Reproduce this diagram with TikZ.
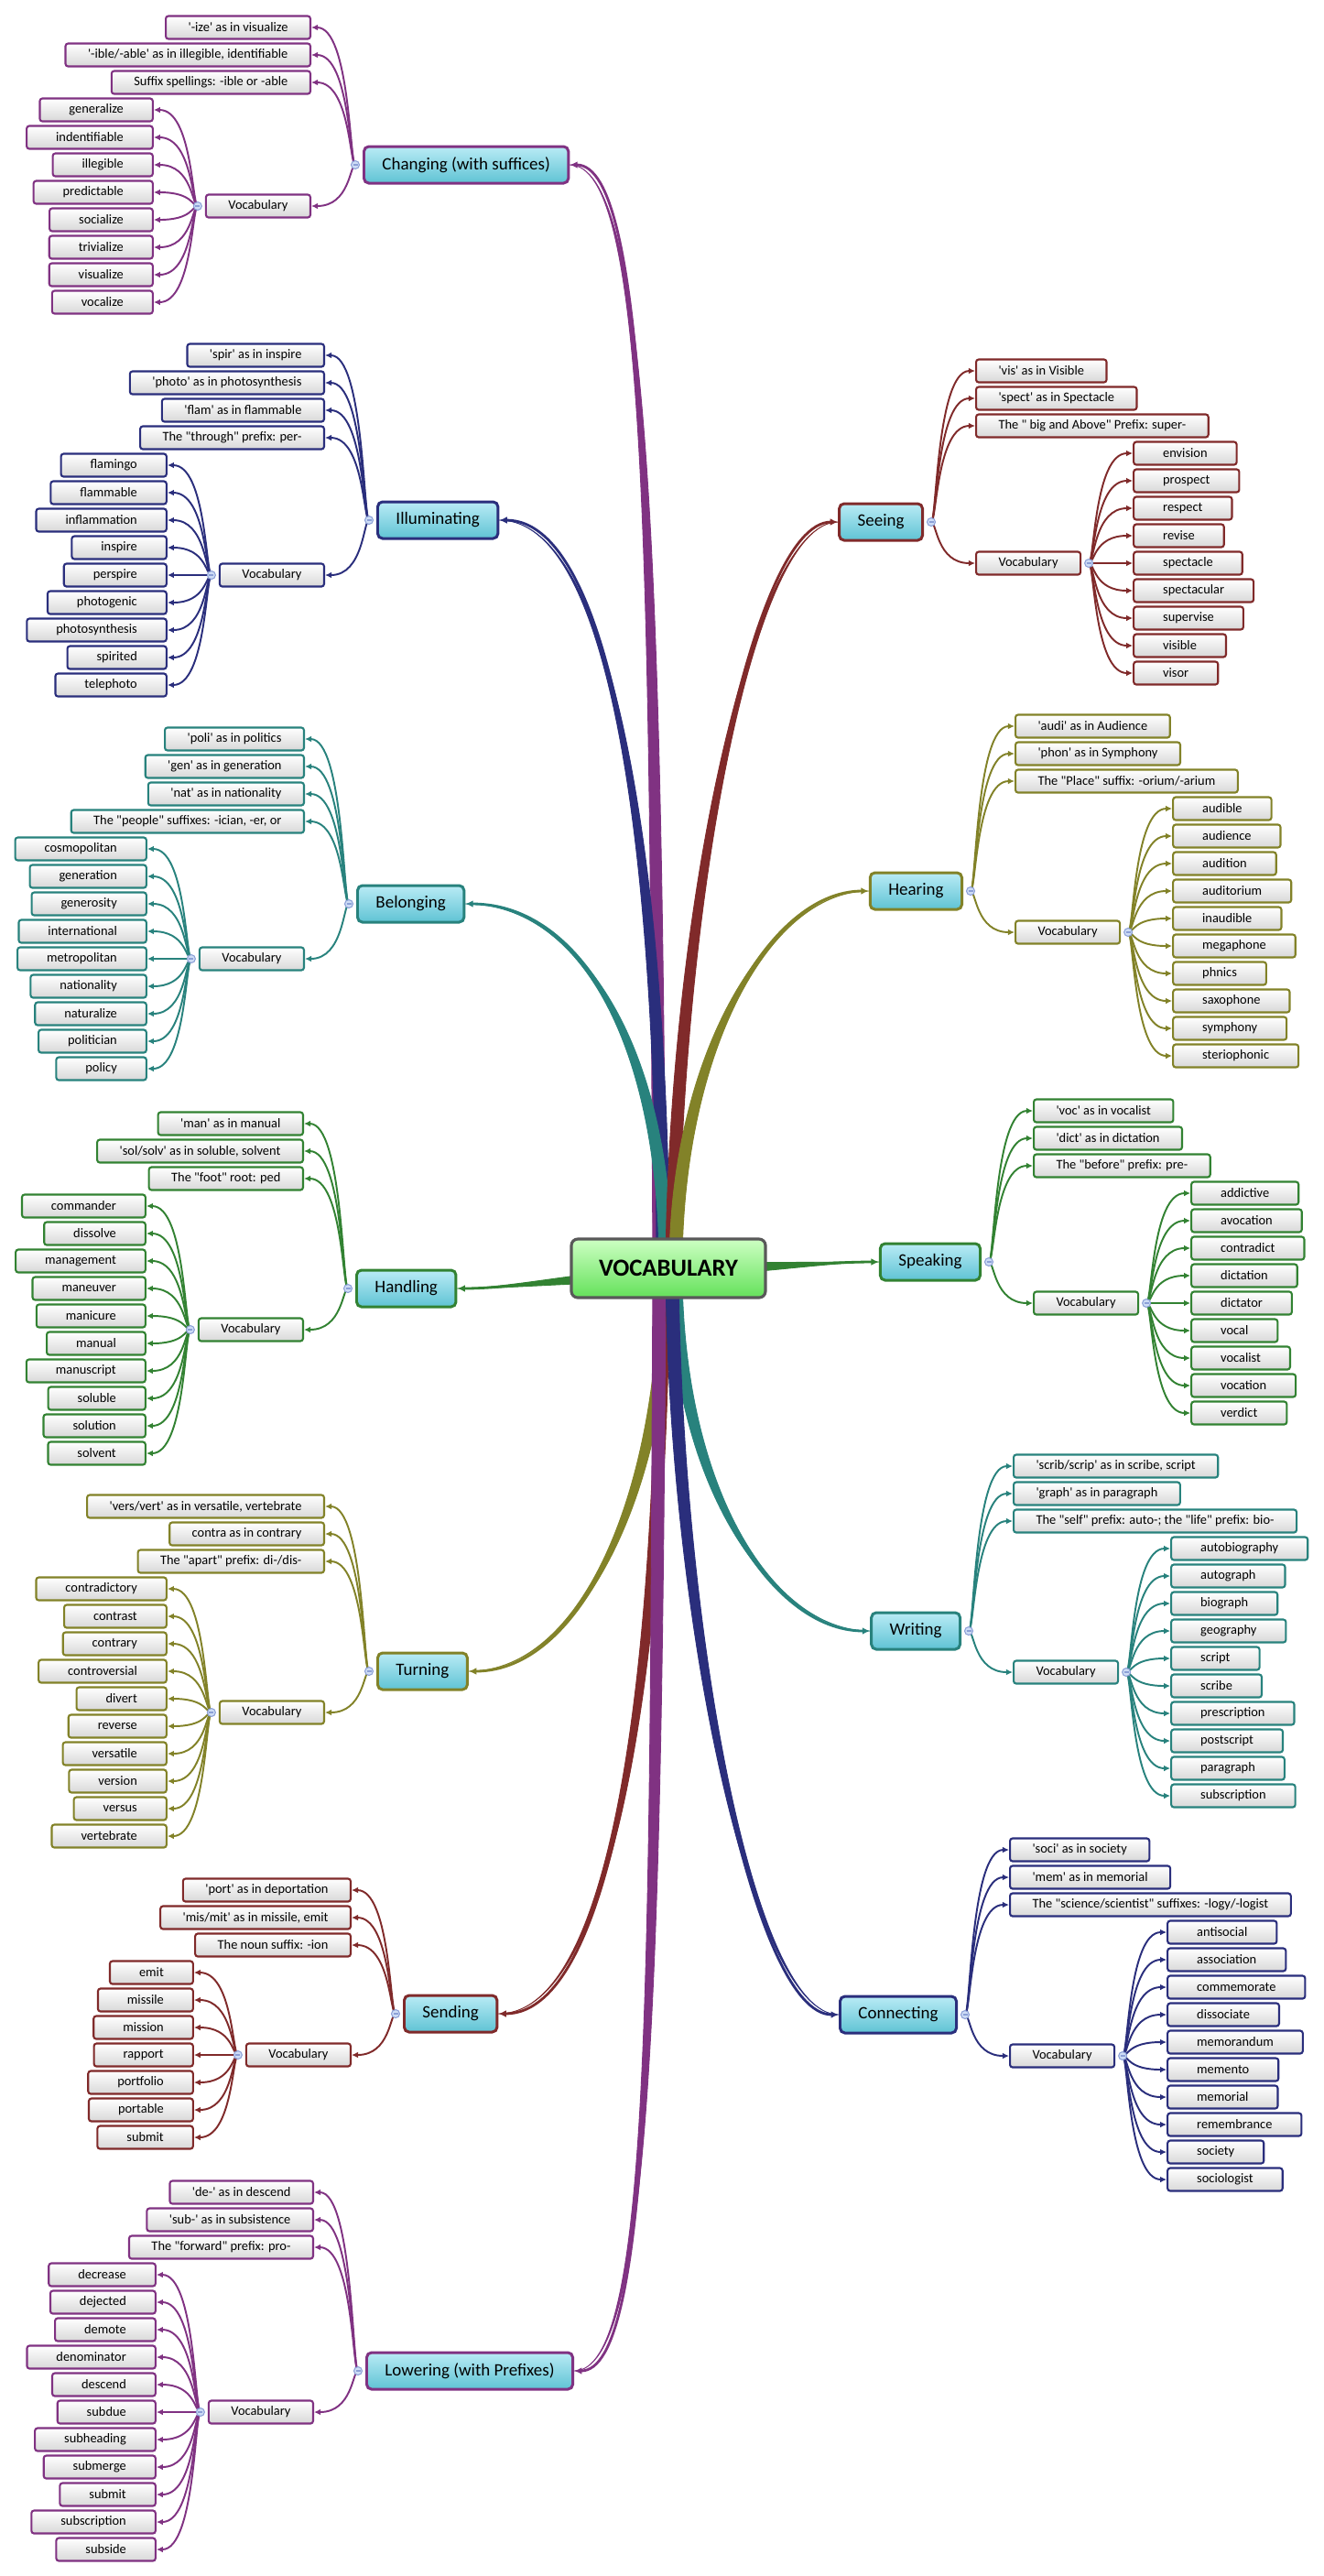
\documentclass[tikz,border=0pt]{standalone}
\usepackage{fontspec}
\newfontfamily\mapfont{Carlito}
\usetikzlibrary{calc,arrows.meta,backgrounds}
\definecolor{cPur}{RGB}{128,50,130}
\definecolor{cNavy}{RGB}{42,46,124}
\definecolor{cTeal}{RGB}{40,130,125}
\definecolor{cGreen}{RGB}{50,130,50}
\definecolor{cOlive}{RGB}{130,130,40}
\definecolor{cRed}{RGB}{128,42,42}
\definecolor{boxgray}{RGB}{216,216,216}
\definecolor{mainhi}{RGB}{185,235,245}
\definecolor{mainlo}{RGB}{95,195,212}
\definecolor{cenhi}{RGB}{205,255,195}
\definecolor{cenlo}{RGB}{100,225,90}
\definecolor{knobfill}{RGB}{205,220,245}
\definecolor{knobedge}{RGB}{140,160,215}
\begin{document}
\begin{tikzpicture}[
  box/.style={rounded corners=0.8pt,line width=0.6pt,top color=white,bottom color=boxgray,text=black,font=\mapfont\fontsize{4.1}{5}\selectfont,minimum height=0.25cm,inner ysep=0pt},
  subbox/.style={box,inner xsep=0.245cm},
  leafbox/.style={box,inner xsep=0.32cm},
  mainbox/.style={rounded corners=1.5pt,line width=0.85pt,top color=mainhi,bottom color=mainlo,text=black,font=\mapfont\fontsize{5.4}{6.5}\selectfont,minimum height=0.40cm,inner xsep=0.2cm,inner ysep=0pt},
  knob/.style={circle,draw=knobedge,fill=knobfill,line width=0.3pt,inner sep=0pt,minimum size=0.09cm,path picture={\draw[knobedge,line width=0.35pt] ([xshift=0.02cm]path picture bounding box.west) -- ([xshift=-0.02cm]path picture bounding box.east);}},
  link/.style={line width=0.55pt,-{Latex[length=2pt,width=1.9pt]}},
  trunk/.style={line width=0.8pt,-{Latex[length=2.4pt,width=2.2pt]}},
  taper/.style={line width=0.25pt,line join=round}
]
\useasboundingbox (0,0) rectangle (14.46,-28.13);
\node[rounded corners=2pt,line width=0.9pt,draw=black!65,top color=cenhi,bottom color=cenlo,minimum width=2.12cm,minimum height=0.64cm,font=\mapfont\bfseries\fontsize{7.6}{9}\selectfont] (voc) at (7.30,-13.85) {VOCABULARY};

\node[mainbox,draw=cPur,anchor=west] (chg) at (3.96,-1.80) {Changing (with suffices)};
\node[subbox,draw=cPur,anchor=east] (chgv) at ($(chg.west)+(-0.56,-0.45)$) {Vocabulary};
\coordinate (chgk) at ($(chg.west)+(-0.08,0)$);
\coordinate (chgvk) at ($(chgv.west)+(-0.08,0)$);
\foreach \word [count=\idx from 0] in {{'-ize' as in visualize},{'-ible/-able' as in illegible, identifiable},{Suffix spellings: -ible or -able}}{
  \node[subbox,draw=cPur,anchor=east] (chg\idx) at ($(chg.west)+(-0.56,{(5-\idx)*0.3})$) {\word};
  \draw[link,cPur] (chgk) .. controls +(-0.06,0) and +(0.42,0) .. (chg\idx.east);
}
\draw[link,cPur] (chgk) .. controls +(-0.06,0) and +(0.42,0) .. (chgv.east);
\foreach \word [count=\idx from 0] in {generalize,indentifiable,illegible,predictable,socialize,trivialize,visualize,vocalize}{
  \node[leafbox,draw=cPur,anchor=east] (chgw\idx) at ($(chgv.west)+(-0.56,{(3.5-\idx)*0.3})$) {\word};
  \draw[link,cPur] (chgvk) .. controls +(-0.06,0) and +(0.42,0) .. (chgw\idx.east);
}
\node[knob] (chgkn) at (chgk) {};
\node[knob] (chgvkn) at (chgvk) {};

\node[mainbox,draw=cNavy,anchor=west] (ill) at (4.11,-5.68) {Illuminating};
\node[subbox,draw=cNavy,anchor=east] (illv) at ($(ill.west)+(-0.56,-0.6)$) {Vocabulary};
\coordinate (illk) at ($(ill.west)+(-0.08,0)$);
\coordinate (illvk) at ($(illv.west)+(-0.08,0)$);
\foreach \word [count=\idx from 0] in {{'spir' as in inspire},{'photo' as in photosynthesis},{'flam' as in flammable},{The "through" prefix: per-}}{
  \node[subbox,draw=cNavy,anchor=east] (ill\idx) at ($(ill.west)+(-0.56,{(6-\idx)*0.3})$) {\word};
  \draw[link,cNavy] (illk) .. controls +(-0.06,0) and +(0.42,0) .. (ill\idx.east);
}
\draw[link,cNavy] (illk) .. controls +(-0.06,0) and +(0.42,0) .. (illv.east);
\foreach \word [count=\idx from 0] in {flamingo,flammable,inflammation,inspire,perspire,photogenic,photosynthesis,spirited,telephoto}{
  \node[leafbox,draw=cNavy,anchor=east] (illw\idx) at ($(illv.west)+(-0.56,{(4-\idx)*0.3})$) {\word};
  \draw[link,cNavy] (illvk) .. controls +(-0.06,0) and +(0.42,0) .. (illw\idx.east);
}
\node[knob] (illkn) at (illk) {};
\node[knob] (illvkn) at (illvk) {};

\node[mainbox,draw=cTeal,anchor=west] (bel) at (3.89,-9.87) {Belonging};
\node[subbox,draw=cTeal,anchor=east] (belv) at ($(bel.west)+(-0.56,-0.6)$) {Vocabulary};
\coordinate (belk) at ($(bel.west)+(-0.08,0)$);
\coordinate (belvk) at ($(belv.west)+(-0.08,0)$);
\foreach \word [count=\idx from 0] in {{'poli' as in politics},{'gen' as in generation},{'nat' as in nationality},{The "people" suffixes: -ician, -er, or}}{
  \node[subbox,draw=cTeal,anchor=east] (bel\idx) at ($(bel.west)+(-0.56,{(6-\idx)*0.3})$) {\word};
  \draw[link,cTeal] (belk) .. controls +(-0.06,0) and +(0.42,0) .. (bel\idx.east);
}
\draw[link,cTeal] (belk) .. controls +(-0.06,0) and +(0.42,0) .. (belv.east);
\foreach \word [count=\idx from 0] in {cosmopolitan,generation,generosity,international,metropolitan,nationality,naturalize,politician,policy}{
  \node[leafbox,draw=cTeal,anchor=east] (belw\idx) at ($(belv.west)+(-0.56,{(4-\idx)*0.3})$) {\word};
  \draw[link,cTeal] (belvk) .. controls +(-0.06,0) and +(0.42,0) .. (belw\idx.east);
}
\node[knob] (belkn) at (belk) {};
\node[knob] (belvkn) at (belvk) {};

\node[mainbox,draw=cGreen,anchor=west] (han) at (3.88,-14.07) {Handling};
\node[subbox,draw=cGreen,anchor=east] (hanv) at ($(han.west)+(-0.56,-0.45)$) {Vocabulary};
\coordinate (hank) at ($(han.west)+(-0.08,0)$);
\coordinate (hanvk) at ($(hanv.west)+(-0.08,0)$);
\foreach \word [count=\idx from 0] in {{'man' as in manual},{'sol/solv' as in soluble, solvent},{The "foot" root: ped}}{
  \node[subbox,draw=cGreen,anchor=east] (han\idx) at ($(han.west)+(-0.56,{(6-\idx)*0.3})$) {\word};
  \draw[link,cGreen] (hank) .. controls +(-0.06,0) and +(0.42,0) .. (han\idx.east);
}
\draw[link,cGreen] (hank) .. controls +(-0.06,0) and +(0.42,0) .. (hanv.east);
\foreach \word [count=\idx from 0] in {commander,dissolve,management,maneuver,manicure,manual,manuscript,soluble,solution,solvent}{
  \node[leafbox,draw=cGreen,anchor=east] (hanw\idx) at ($(hanv.west)+(-0.56,{(4.5-\idx)*0.3})$) {\word};
  \draw[link,cGreen] (hanvk) .. controls +(-0.06,0) and +(0.42,0) .. (hanw\idx.east);
}
\node[knob] (hankn) at (hank) {};
\node[knob] (hanvkn) at (hanvk) {};

\node[mainbox,draw=cOlive,anchor=west] (tur) at (4.11,-18.25) {Turning};
\node[subbox,draw=cOlive,anchor=east] (turv) at ($(tur.west)+(-0.56,-0.45)$) {Vocabulary};
\coordinate (turk) at ($(tur.west)+(-0.08,0)$);
\coordinate (turvk) at ($(turv.west)+(-0.08,0)$);
\foreach \word [count=\idx from 0] in {{'vers/vert' as in versatile, vertebrate},{contra as in contrary},{The "apart" prefix: di-/dis-}}{
  \node[subbox,draw=cOlive,anchor=east] (tur\idx) at ($(tur.west)+(-0.56,{(6-\idx)*0.3})$) {\word};
  \draw[link,cOlive] (turk) .. controls +(-0.06,0) and +(0.42,0) .. (tur\idx.east);
}
\draw[link,cOlive] (turk) .. controls +(-0.06,0) and +(0.42,0) .. (turv.east);
\foreach \word [count=\idx from 0] in {contradictory,contrast,contrary,controversial,divert,reverse,versatile,version,versus,vertebrate}{
  \node[leafbox,draw=cOlive,anchor=east] (turw\idx) at ($(turv.west)+(-0.56,{(4.5-\idx)*0.3})$) {\word};
  \draw[link,cOlive] (turvk) .. controls +(-0.06,0) and +(0.42,0) .. (turw\idx.east);
}
\node[knob] (turkn) at (turk) {};
\node[knob] (turvkn) at (turvk) {};

\node[mainbox,draw=cRed,anchor=west] (snd) at (4.40,-21.99) {Sending};
\node[subbox,draw=cRed,anchor=east] (sndv) at ($(snd.west)+(-0.56,-0.45)$) {Vocabulary};
\coordinate (sndk) at ($(snd.west)+(-0.08,0)$);
\coordinate (sndvk) at ($(sndv.west)+(-0.08,0)$);
\foreach \word [count=\idx from 0] in {{'port' as in deportation},{'mis/mit' as in missile, emit},{The noun suffix: -ion}}{
  \node[subbox,draw=cRed,anchor=east] (snd\idx) at ($(snd.west)+(-0.56,{(4.5-\idx)*0.3})$) {\word};
  \draw[link,cRed] (sndk) .. controls +(-0.06,0) and +(0.42,0) .. (snd\idx.east);
}
\draw[link,cRed] (sndk) .. controls +(-0.06,0) and +(0.42,0) .. (sndv.east);
\foreach \word [count=\idx from 0] in {emit,missile,mission,rapport,portfolio,portable,submit}{
  \node[leafbox,draw=cRed,anchor=east] (sndw\idx) at ($(sndv.west)+(-0.56,{(3-\idx)*0.3})$) {\word};
  \draw[link,cRed] (sndvk) .. controls +(-0.06,0) and +(0.42,0) .. (sndw\idx.east);
}
\node[knob] (sndkn) at (sndk) {};
\node[knob] (sndvkn) at (sndvk) {};

\node[mainbox,draw=cPur,anchor=west] (low) at (3.99,-25.89) {Lowering (with Prefixes)};
\node[subbox,draw=cPur,anchor=east] (lowv) at ($(low.west)+(-0.56,-0.45)$) {Vocabulary};
\coordinate (lowk) at ($(low.west)+(-0.08,0)$);
\coordinate (lowvk) at ($(lowv.west)+(-0.08,0)$);
\foreach \word [count=\idx from 0] in {{'de-' as in descend},{'sub-' as in subsistence},{The "forward" prefix: pro-}}{
  \node[subbox,draw=cPur,anchor=east] (low\idx) at ($(low.west)+(-0.56,{(6.5-\idx)*0.3})$) {\word};
  \draw[link,cPur] (lowk) .. controls +(-0.06,0) and +(0.42,0) .. (low\idx.east);
}
\draw[link,cPur] (lowk) .. controls +(-0.06,0) and +(0.42,0) .. (lowv.east);
\foreach \word [count=\idx from 0] in {decrease,dejected,demote,denominator,descend,subdue,subheading,submerge,submit,subscription,subside}{
  \node[leafbox,draw=cPur,anchor=east] (loww\idx) at ($(lowv.west)+(-0.56,{(5-\idx)*0.3})$) {\word};
  \draw[link,cPur] (lowvk) .. controls +(-0.06,0) and +(0.42,0) .. (loww\idx.east);
}
\node[knob] (lowkn) at (lowk) {};
\node[knob] (lowvkn) at (lowvk) {};

\node[mainbox,draw=cRed,anchor=east] (see) at (10.09,-5.70) {Seeing};
\node[subbox,draw=cRed,anchor=west] (seev) at ($(see.east)+(0.56,-0.45)$) {Vocabulary};
\coordinate (seek) at ($(see.east)+(0.08,0)$);
\coordinate (seevk) at ($(seev.east)+(0.08,0)$);
\foreach \word [count=\idx from 0] in {{'vis' as in Visible},{'spect' as in Spectacle},{The " big and Above" Prefix: super-}}{
  \node[subbox,draw=cRed,anchor=west] (see\idx) at ($(see.east)+(0.56,{(5.5-\idx)*0.3})$) {\word};
  \draw[link,cRed] (seek) .. controls +(0.06,0) and +(-0.42,0) .. (see\idx.west);
}
\draw[link,cRed] (seek) .. controls +(0.06,0) and +(-0.42,0) .. (seev.west);
\foreach \word [count=\idx from 0] in {envision,prospect,respect,revise,spectacle,spectacular,supervise,visible,visor}{
  \node[leafbox,draw=cRed,anchor=west] (seew\idx) at ($(seev.east)+(0.56,{(4-\idx)*0.3})$) {\word};
  \draw[link,cRed] (seevk) .. controls +(0.06,0) and +(-0.42,0) .. (seew\idx.west);
}
\node[knob] (seekn) at (seek) {};
\node[knob] (seevkn) at (seevk) {};

\node[mainbox,draw=cOlive,anchor=east] (hea) at (10.52,-9.73) {Hearing};
\node[subbox,draw=cOlive,anchor=west] (heav) at ($(hea.east)+(0.56,-0.45)$) {Vocabulary};
\coordinate (heak) at ($(hea.east)+(0.08,0)$);
\coordinate (heavk) at ($(heav.east)+(0.08,0)$);
\foreach \word [count=\idx from 0] in {{'audi' as in Audience},{'phon' as in Symphony},{The "Place" suffix: -orium/-arium}}{
  \node[subbox,draw=cOlive,anchor=west] (hea\idx) at ($(hea.east)+(0.56,{(6-\idx)*0.3})$) {\word};
  \draw[link,cOlive] (heak) .. controls +(0.06,0) and +(-0.42,0) .. (hea\idx.west);
}
\draw[link,cOlive] (heak) .. controls +(0.06,0) and +(-0.42,0) .. (heav.west);
\foreach \word [count=\idx from 0] in {audible,audience,audition,auditorium,inaudible,megaphone,phnics,saxophone,symphony,steriophonic}{
  \node[leafbox,draw=cOlive,anchor=west] (heaw\idx) at ($(heav.east)+(0.56,{(4.5-\idx)*0.3})$) {\word};
  \draw[link,cOlive] (heavk) .. controls +(0.06,0) and +(-0.42,0) .. (heaw\idx.west);
}
\node[knob] (heakn) at (heak) {};
\node[knob] (heavkn) at (heavk) {};

\node[mainbox,draw=cGreen,anchor=east] (spk) at (10.72,-13.78) {Speaking};
\node[subbox,draw=cGreen,anchor=west] (spkv) at ($(spk.east)+(0.56,-0.45)$) {Vocabulary};
\coordinate (spkk) at ($(spk.east)+(0.08,0)$);
\coordinate (spkvk) at ($(spkv.east)+(0.08,0)$);
\foreach \word [count=\idx from 0] in {{'voc' as in vocalist},{'dict' as in dictation},{The "before" prefix: pre-}}{
  \node[subbox,draw=cGreen,anchor=west] (spk\idx) at ($(spk.east)+(0.56,{(5.5-\idx)*0.3})$) {\word};
  \draw[link,cGreen] (spkk) .. controls +(0.06,0) and +(-0.42,0) .. (spk\idx.west);
}
\draw[link,cGreen] (spkk) .. controls +(0.06,0) and +(-0.42,0) .. (spkv.west);
\foreach \word [count=\idx from 0] in {addictive,avocation,contradict,dictation,dictator,vocal,vocalist,vocation,verdict}{
  \node[leafbox,draw=cGreen,anchor=west] (spkw\idx) at ($(spkv.east)+(0.56,{(4-\idx)*0.3})$) {\word};
  \draw[link,cGreen] (spkvk) .. controls +(0.06,0) and +(-0.42,0) .. (spkw\idx.west);
}
\node[knob] (spkkn) at (spkk) {};
\node[knob] (spkvkn) at (spkvk) {};

\node[mainbox,draw=cTeal,anchor=east] (wri) at (10.50,-17.81) {Writing};
\node[subbox,draw=cTeal,anchor=west] (wriv) at ($(wri.east)+(0.56,-0.45)$) {Vocabulary};
\coordinate (wrik) at ($(wri.east)+(0.08,0)$);
\coordinate (wrivk) at ($(wriv.east)+(0.08,0)$);
\foreach \word [count=\idx from 0] in {{'scrib/scrip' as in scribe, script},{'graph' as in paragraph},{The "self" prefix: auto-; the "life" prefix: bio-}}{
  \node[subbox,draw=cTeal,anchor=west] (wri\idx) at ($(wri.east)+(0.56,{(6-\idx)*0.3})$) {\word};
  \draw[link,cTeal] (wrik) .. controls +(0.06,0) and +(-0.42,0) .. (wri\idx.west);
}
\draw[link,cTeal] (wrik) .. controls +(0.06,0) and +(-0.42,0) .. (wriv.west);
\foreach \word [count=\idx from 0] in {autobiography,autograph,biograph,geography,script,scribe,prescription,postscript,paragraph,subscription}{
  \node[leafbox,draw=cTeal,anchor=west] (wriw\idx) at ($(wriv.east)+(0.56,{(4.5-\idx)*0.3})$) {\word};
  \draw[link,cTeal] (wrivk) .. controls +(0.06,0) and +(-0.42,0) .. (wriw\idx.west);
}
\node[knob] (wrikn) at (wrik) {};
\node[knob] (wrivkn) at (wrivk) {};

\node[mainbox,draw=cNavy,anchor=east] (con) at (10.46,-22.00) {Connecting};
\node[subbox,draw=cNavy,anchor=west] (conv) at ($(con.east)+(0.56,-0.45)$) {Vocabulary};
\coordinate (conk) at ($(con.east)+(0.08,0)$);
\coordinate (convk) at ($(conv.east)+(0.08,0)$);
\foreach \word [count=\idx from 0] in {{'soci' as in society},{'mem' as in memorial},{The "science/scientist" suffixes: -logy/-logist}}{
  \node[subbox,draw=cNavy,anchor=west] (con\idx) at ($(con.east)+(0.56,{(6-\idx)*0.3})$) {\word};
  \draw[link,cNavy] (conk) .. controls +(0.06,0) and +(-0.42,0) .. (con\idx.west);
}
\draw[link,cNavy] (conk) .. controls +(0.06,0) and +(-0.42,0) .. (conv.west);
\foreach \word [count=\idx from 0] in {antisocial,association,commemorate,dissociate,memorandum,memento,memorial,remembrance,society,sociologist}{
  \node[leafbox,draw=cNavy,anchor=west] (conw\idx) at ($(conv.east)+(0.56,{(4.5-\idx)*0.3})$) {\word};
  \draw[link,cNavy] (convk) .. controls +(0.06,0) and +(-0.42,0) .. (conw\idx.west);
}
\node[knob] (conkn) at (conk) {};
\node[knob] (convkn) at (convk) {};

\begin{scope}[on background layer]
\foreach \nd/\col/\anc/\sx/\ax/\ay/\bx in {chg/cPur/east/-0.10/-0.04/7.85/0.84,ill/cNavy/east/-0.06/0/3.85/1.34,bel/cTeal/east/-0.03/0/2.35/1.30,tur/cOlive/east/-0.03/0/-2.35/1.27,snd/cRed/east/-0.06/0/-3.85/1.34,low/cPur/east/-0.10/-0.04/-7.85/0.84,see/cRed/west/0.04/0.03/3.85/-0.95,hea/cOlive/west/0.08/0/2.35/-1.09,wri/cTeal/west/0.08/0/-2.35/-1.09,con/cNavy/west/0.04/0.03/-3.85/-0.95}{
  \filldraw[taper,\col] ($(voc.center)+(\sx-0.07,0)$) .. controls +(\ax,\ay) and +(\bx,0) .. (\nd.\anc) .. controls +(\bx,0) and +(\ax,\ay) .. ($(voc.center)+(\sx+0.07,0)$) -- cycle;
  \draw[trunk,\col] ($(voc.center)+(\sx,0)$) .. controls +(\ax,\ay) and +(\bx,0) .. (\nd.\anc);
}
\filldraw[taper,cGreen] ($(voc.center)+(0,0)$) .. controls +(-0.8,0) and +(0.6,0) .. (han.east) .. controls +(0.6,0) and +(-0.8,0) .. ($(voc.center)+(0,-0.14)$) -- cycle;
\draw[trunk,cGreen] ($(voc.center)+(0,-0.07)$) .. controls +(-0.8,0) and +(0.6,0) .. (han.east);
\filldraw[taper,cGreen] ($(voc.center)+(0,0.06)$) .. controls +(0.9,0) and +(-0.6,0) .. (spk.west) .. controls +(-0.6,0) and +(0.9,0) .. ($(voc.center)+(0,-0.08)$) -- cycle;
\draw[trunk,cGreen] ($(voc.center)+(0,-0.01)$) .. controls +(0.9,0) and +(-0.6,0) .. (spk.west);
\end{scope}
\end{tikzpicture}
\end{document}
